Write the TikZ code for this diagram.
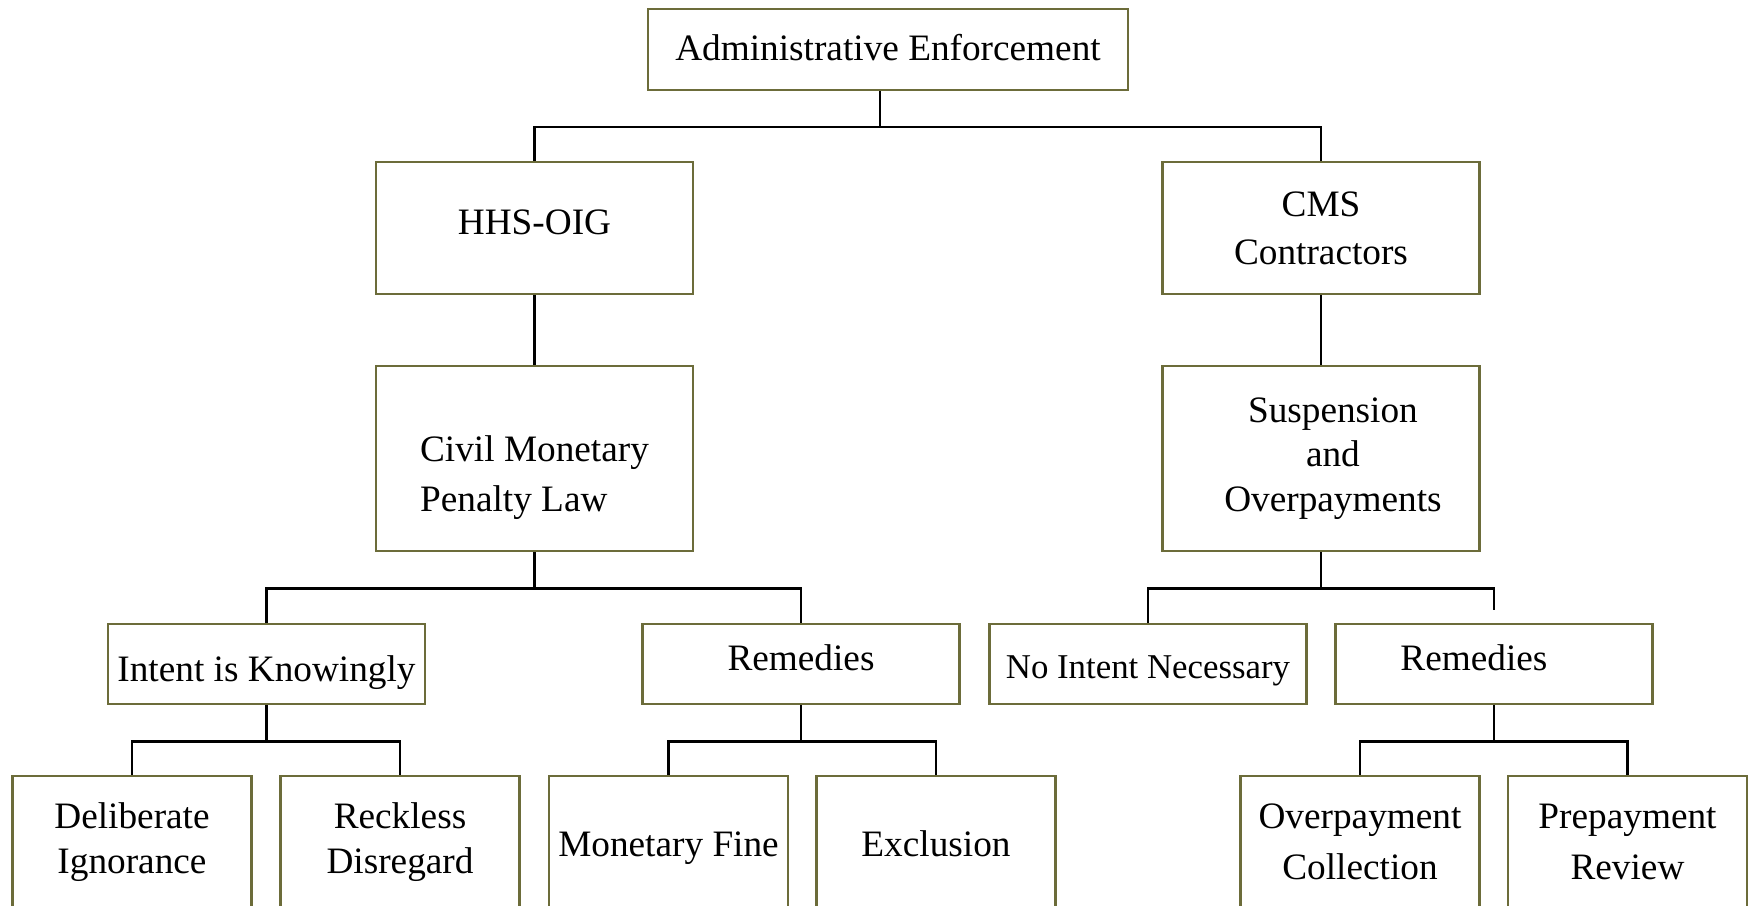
\documentclass[tikz,border=0pt]{standalone}
\usepackage{fontspec}
\setmainfont{Liberation Serif}
\usepackage{tikz}
\usetikzlibrary{positioning}
\definecolor{olivebox}{RGB}{108,108,58}
\definecolor{linkblack}{RGB}{0,0,0}
\newcommand{\lift}[2]{\rule[-#1]{0pt}{#2}}
\tikzset{
  base/.style={font=\fontsize{10.6}{12.7}\selectfont, align=center, inner sep=0pt, text=black},
  box/.style={base, rectangle, draw=olivebox, fill=white, line width=0.75pt},
  topbox/.style={box, minimum width=4.8cm, minimum height=0.81cm},
  unit/.style={box, minimum width=3.17cm, minimum height=1.32cm},
  law/.style={box, minimum width=3.17cm, minimum height=1.85cm},
  branch/.style={box, minimum width=3.17cm, minimum height=0.8cm},
  leaf/.style={box, minimum width=2.39cm, minimum height=1.32cm},
  link/.style={line width=0.65pt, draw=linkblack},
}

\begin{document}
\begin{tikzpicture}[x=0.01cm,y=-0.01cm]
  \useasboundingbox (0,0) rectangle (1748,905);
  \clip (0,0) rectangle (1748,905);
  \node[topbox] (admin) at (888,49.5) {\lift{1.3pt}{0pt}Administrative Enforcement};
  \node[unit] (hhs) at (534.5,228) {\lift{3.3pt}{0pt}HHS-OIG};
  \node[unit] (cms) at (1321,228) {CMS\\[1pt]Contractors};
  \node[law,align=left] (cml) at (534.5,458.5) {\lift{0pt}{18.3pt}Civil Monetary\\[1.5pt]Penalty Law};
  \node[law] (susp) at (1321,458.5) {\hspace*{6.8pt}Suspension\\\hspace*{6.8pt}and\\\hspace*{6.8pt}Overpayments};
  \node[branch] (intent) at (266.5,664) {\lift{2.4pt}{14.9pt}Intent is Knowingly};
  \node[branch] (remL) at (801,664) {\lift{3.9pt}{0pt}Remedies};
  \node[branch,font=\fontsize{9.9}{12}\selectfont] (noint) at (1148,664) {\lift{2.3pt}{13.1pt}No Intent Necessary};
  \node[branch] (remR) at (1494,664) {\lift{3.9pt}{0pt}Remedies\hspace*{11.4pt}};
  \node[leaf] (delib) at (132,842) {Deliberate\\Ignorance};
  \node[leaf] (reck) at (400,842) {Reckless\\Disregard};
  \node[leaf] (fine) at (668.5,842) {\lift{2.4pt}{13.2pt}Monetary Fine};
  \node[leaf] (excl) at (936,842) {\lift{2.4pt}{13.2pt}Exclusion};
  \node[leaf] (overc) at (1360,842) {Overpayment\\[1.8pt]Collection};
  \node[leaf] (prepr) at (1627.5,842) {Prepayment\\[1.8pt]Review};
  \foreach \c in {hhs,cms}{\draw[link] ([xshift=-0.08cm]admin.south) -- ++(0,36) -| (\c.north);}
  \draw[link] (hhs.south) -- (cml.north);
  \draw[link] (cms.south) -- (susp.north);
  \foreach \p/\c in {cml/intent,cml/remL,susp/noint,intent/delib,intent/reck,remL/fine,remL/excl,remR/overc,remR/prepr}{
    \draw[link] (\p.south) -- ++(0,36) -| (\c.north);
  }
  \draw[link] (susp.south) -- ++(0,36) -| ([yshift=0.13cm]remR.north);
\end{tikzpicture}
\end{document}
